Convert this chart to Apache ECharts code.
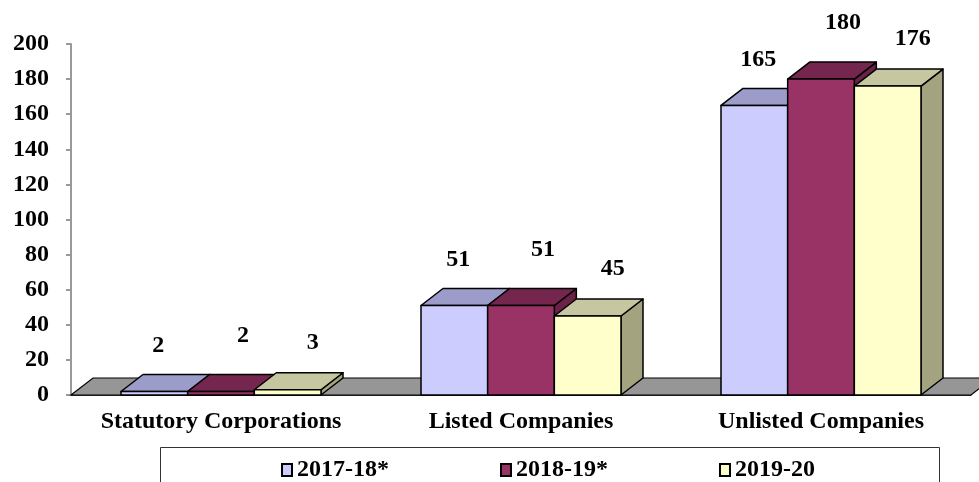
<!DOCTYPE html>
<html>
<head>
<meta charset="utf-8">
<script src="https://cdn.jsdelivr.net/npm/echarts@6/dist/echarts.min.js"></script>
<style>
  html, body { margin: 0; padding: 0; background: #fff; }
  #main { width: 979px; height: 482px; }
</style>
</head>
<body>
<div id="main"></div>
<script>
// data
const categories = ['Statutory Corporations', 'Listed Companies', 'Unlisted Companies']
const years = ['2017-18*', '2018-19*', '2019-20']
const values2017 = [2, 51, 165]
const values2018 = [2, 51, 180]
const values2019 = [3, 45, 176]
const yTicks = [0, 20, 40, 60, 80, 100, 120, 140, 160, 180, 200]

// colours: front face, top face, side face
const faces = [
  { front: '#CCCCFF', top: '#9C9CCB', side: '#8A8AB5' },
  { front: '#993366', top: '#75264F', side: '#6A2247' },
  { front: '#FFFFCC', top: '#C6C6A0', side: '#A3A380' },
]
// where the value label sits, relative to the bar's front top
const labelShift = [[4, -46], [22, -56], [25, -47]]
const depthX = 22
const depthY = 17
const font = '"Liberation Serif", "Times New Roman", serif'

let myChart = echarts.init(document.getElementById('main'))

function drawBox(k) {
  return function (params, api) {
    const cat = api.value(0)
    const val = api.value(1)
    const base = api.coord([cat, 0])
    const top = api.coord([cat, val])
    const band = api.size([1, 0])[0]
    const w = band * 2 / 9
    const x0 = base[0] + (k - 1.5) * w
    const x1 = x0 + w
    const yb = base[1]
    const yt = top[1]
    const c = faces[k]
    const line = { stroke: '#000', lineWidth: 1.5, lineJoin: 'round' }
    return {
      type: 'group',
      children: [
        {
          type: 'polygon',
          shape: { points: [[x1, yt], [x1 + depthX, yt - depthY], [x1 + depthX, yb - depthY], [x1, yb]] },
          style: Object.assign({ fill: c.side }, line),
        },
        {
          type: 'polygon',
          shape: { points: [[x0, yt], [x0 + depthX, yt - depthY], [x1 + depthX, yt - depthY], [x1, yt]] },
          style: Object.assign({ fill: c.top }, line),
        },
        {
          type: 'rect',
          shape: { x: x0, y: yt, width: w, height: yb - yt },
          style: Object.assign({ fill: c.front }, line),
        },
        {
          type: 'text',
          x: (x0 + x1) / 2 + labelShift[k][0],
          y: yt + labelShift[k][1],
          style: {
            text: String(val),
            font: 'bold 24px ' + font,
            fill: '#000',
            align: 'center',
            verticalAlign: 'middle',
          },
        },
      ],
    }
  }
}

// grey floor under the bars
function drawFloor(params, api) {
  const cs = params.coordSys
  const yb = cs.y + cs.height
  const xl = cs.x
  const xr = cs.x + cs.width
  return {
    type: 'polygon',
    shape: { points: [[xl, yb], [xl + depthX, yb - depthY], [xr + depthX, yb - depthY], [xr, yb]] },
    style: { fill: '#969696', stroke: '#000', lineWidth: 1.2 },
  }
}

const seriesValues = [values2017, values2018, values2019]

const option = {
  animation: false,
  backgroundColor: '#fff',
  grid: { left: 71, right: 8, top: 44, bottom: 87 },
  legend: {
    data: years,
    left: 276,
    top: 453,
    itemGap: 111,
    itemWidth: 10,
    itemHeight: 12,
    icon: 'rect',
    textStyle: { fontFamily: font, fontWeight: 'bold', fontSize: 24, color: '#000' },
  },
  graphic: [
    {
      type: 'rect',
      left: 158,
      top: 445,
      shape: { width: 779, height: 60 },
      style: { fill: 'none', stroke: '#333', lineWidth: 1 },
      silent: true,
    },
  ],
  xAxis: {
    type: 'category',
    data: categories,
    axisLine: { lineStyle: { color: '#333', width: 1 } },
    axisTick: { length: 5, lineStyle: { color: '#333' } },
    axisLabel: {
      interval: 0,
      hideOverlap: false,
      margin: 15,
      color: '#000',
      fontFamily: font,
      fontWeight: 'bold',
      fontSize: 24,
    },
  },
  yAxis: {
    type: 'value',
    min: yTicks[0],
    max: yTicks[yTicks.length - 1],
    interval: yTicks[1] - yTicks[0],
    splitLine: { show: false },
    axisLine: { show: true, lineStyle: { color: '#999', width: 2 } },
    axisTick: { show: true, length: 5, lineStyle: { color: '#999', width: 2 } },
    axisLabel: { margin: 22, color: '#000', fontFamily: font, fontWeight: 'bold', fontSize: 24 },
  },
  series: [
    {
      type: 'custom',
      name: 'floor',
      renderItem: drawFloor,
      data: [[0, 0]],
      z: 1,
      silent: true,
    },
  ].concat(years.map((name, k) => ({
    type: 'custom',
    name: name,
    renderItem: drawBox(k),
    itemStyle: { color: faces[k].front, borderColor: '#000', borderWidth: 1.5 },
    data: seriesValues[k].map((v, i) => [i, v]),
    z: 2 + k,
  }))),
}

myChart.setOption(option)
</script>
</body>
</html>
